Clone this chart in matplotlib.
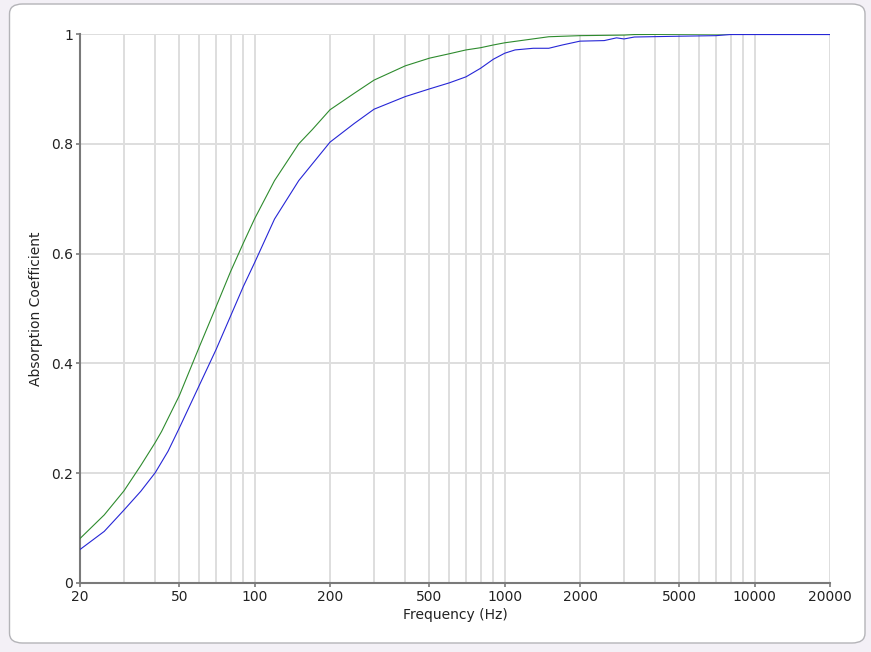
import matplotlib.pyplot as plt
import numpy as np
from matplotlib.patches import FancyBboxPatch
from matplotlib.ticker import FixedLocator, NullFormatter

# values
freq_green = [20, 25, 30, 35, 40, 42.4, 50, 60, 70, 80, 90, 100, 120,
              150, 170, 200, 250, 300, 400, 500, 600, 700, 800, 900, 1000, 1500,
              2000, 3000, 3300, 5000, 7000, 20000]
alpha_green = [0.081, 0.124, 0.168, 0.214, 0.256, 0.276, 0.342, 0.430, 0.503,
               0.567, 0.619, 0.664, 0.733, 0.800, 0.826, 0.862,
               0.892, 0.916, 0.942, 0.956, 0.964, 0.971, 0.975, 0.980, 0.984,
               0.995, 0.997, 0.998, 0.999, 0.9995, 1.0, 1.0]

freq_blue = [20, 25, 30, 35, 40, 45, 50, 60, 70, 80, 90, 100, 120, 150,
             200, 250, 300, 400, 500, 600, 700, 800, 900, 1000, 1100, 1300, 1500,
             1700, 2000, 2500, 2800, 3000, 3300, 5000, 7000, 8000, 20000]
alpha_blue = [0.061, 0.094, 0.133, 0.167, 0.201, 0.240, 0.283, 0.360, 0.425,
              0.486, 0.540, 0.584, 0.663, 0.733, 0.803, 0.837, 0.863,
              0.886, 0.900, 0.911, 0.922, 0.9375, 0.954, 0.965, 0.971, 0.974,
              0.974, 0.980, 0.987, 0.988, 0.993, 0.991, 0.9945, 0.996, 0.997,
              0.999, 0.999]

x_major = [20, 50, 100, 200, 500, 1000, 2000, 5000, 10000, 20000]
y_major = [0, 0.2, 0.4, 0.6, 0.8, 1]
y_labels = ["0", "0.2", "0.4", "0.6", "0.8", "1"]

W, H = 871, 652
fig = plt.figure(figsize=(W / 100, H / 100), dpi=100)
fig.patch.set_facecolor("#f3f0f6")

# white rounded panel behind the chart
panel = FancyBboxPatch(
    (9.5 / W, (H - 643) / H), (865 - 9.5) / W, (643 - 4) / H,
    boxstyle="round,pad=0,rounding_size=0.015",
    transform=fig.transFigure, facecolor="white", edgecolor="#b4b4b8",
    linewidth=1.0, zorder=-5,
)
fig.patches.append(panel)

ax = fig.add_axes([80 / W, (H - 583) / H, 750 / W, 549 / H])
ax.set_facecolor("none")
ax.set_zorder(2)

ax.semilogx(freq_green, alpha_green, color="#2e8b2e", linewidth=0.8, zorder=3)
ax.semilogx(freq_blue, alpha_blue, color="#2626d6", linewidth=0.8, zorder=4)

ax.set_xlim(20, 20000)
ax.set_ylim(0, 1)

# grid lines on every 1..9 multiple
grid_x = [m * 10 ** e for e in range(1, 5) for m in range(1, 10)]
grid_x = [g for g in grid_x if 20 < g <= 20000]
for g in grid_x:
    ax.axvline(g, color="#dedede", linewidth=1.4, zorder=1)
for v in y_major[1:]:
    ax.axhline(v, color="#dedede", linewidth=1.4, zorder=1)

ax.xaxis.set_major_locator(FixedLocator(x_major))
ax.xaxis.set_minor_locator(FixedLocator([]))
ax.xaxis.set_minor_formatter(NullFormatter())
ax.set_xticklabels([str(x) for x in x_major])
ax.set_yticks(y_major)
ax.set_yticklabels(y_labels)

for side in ["top", "right"]:
    ax.spines[side].set_visible(False)
for side in ["left", "bottom"]:
    ax.spines[side].set_color("#7a7a7a")
    ax.spines[side].set_linewidth(1.5)

ax.tick_params(axis="both", direction="out", length=3, width=1.2,
               color="#7a7a7a", labelsize=10, labelcolor="#222222", pad=2)

ax.set_xlabel("Frequency (Hz)", fontsize=10, color="#222222", labelpad=3)
ax.set_ylabel("Absorption Coefficient", fontsize=10, color="#222222", labelpad=6)

fig.savefig("out.png", dpi=100, facecolor=fig.get_facecolor())
